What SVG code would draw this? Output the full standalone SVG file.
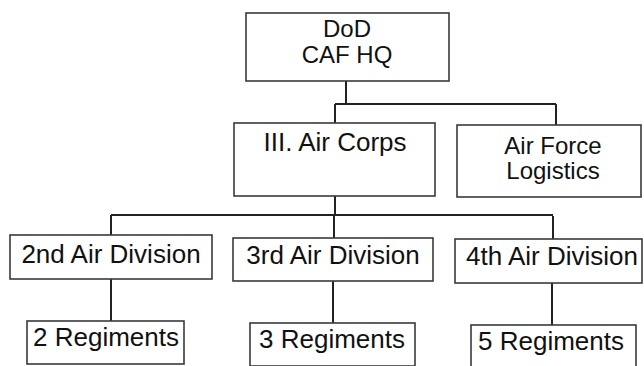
<svg xmlns="http://www.w3.org/2000/svg" width="644" height="366" viewBox="0 0 644 366">
<style>
.box{fill:#fff;stroke:#3a3a3a;stroke-width:1.6}
.lbl{font-family:"Liberation Sans",Arial,sans-serif;font-size:26px;fill:#111;text-anchor:middle}
.two{font-size:24px}
.conn{fill:none;stroke:#222;stroke-width:2}
</style>
<rect width="644" height="366" fill="#fff"/>
<g id="connectors">
<path class="conn" d="M346 81 V104 M335 104 H556 M335 104 V123 M556 104 V125"/>
<path class="conn" d="M335 196 V216 M111 215 H553 M111 215 V235 M334 215 V238 M553 216 V239"/>
<path class="conn" d="M111 279 V321 M333 281 V323 M552 283 V325"/>
</g>
<g id="n_dod"><rect class="box" x="246" y="13" width="203" height="68"/><text class="lbl two" x="347" y="37">DoD<tspan x="347" dy="26">CAF HQ</tspan></text></g>
<g id="n_aircorps"><rect class="box" x="234" y="123" width="201" height="73"/><text class="lbl" x="335" y="151">III. Air Corps</text></g>
<g id="n_logistics"><rect class="box" x="457" y="125" width="184" height="72"/><text class="lbl two" x="553" y="154">Air Force<tspan x="553" dy="25">Logistics</tspan></text></g>
<g id="n_div2"><rect class="box" x="10" y="235" width="202" height="44"/><text class="lbl" x="111" y="263">2nd Air Division</text></g>
<g id="n_div3"><rect class="box" x="233" y="238" width="200" height="43"/><text class="lbl" x="333" y="264">3rd Air Division</text></g>
<g id="n_div4"><rect class="box" x="455" y="239" width="187" height="44"/><text class="lbl" x="552" y="265">4th Air Division</text></g>
<g id="n_reg2"><rect class="box" x="27" y="321" width="157" height="43"/><text class="lbl" x="106" y="346">2 Regiments</text></g>
<g id="n_reg3"><rect class="box" x="250" y="323" width="165" height="43"/><text class="lbl" x="332" y="348">3 Regiments</text></g>
<g id="n_reg5"><rect class="box" x="471" y="325" width="165" height="43"/><text class="lbl" x="551" y="350">5 Regiments</text></g>
</svg>
